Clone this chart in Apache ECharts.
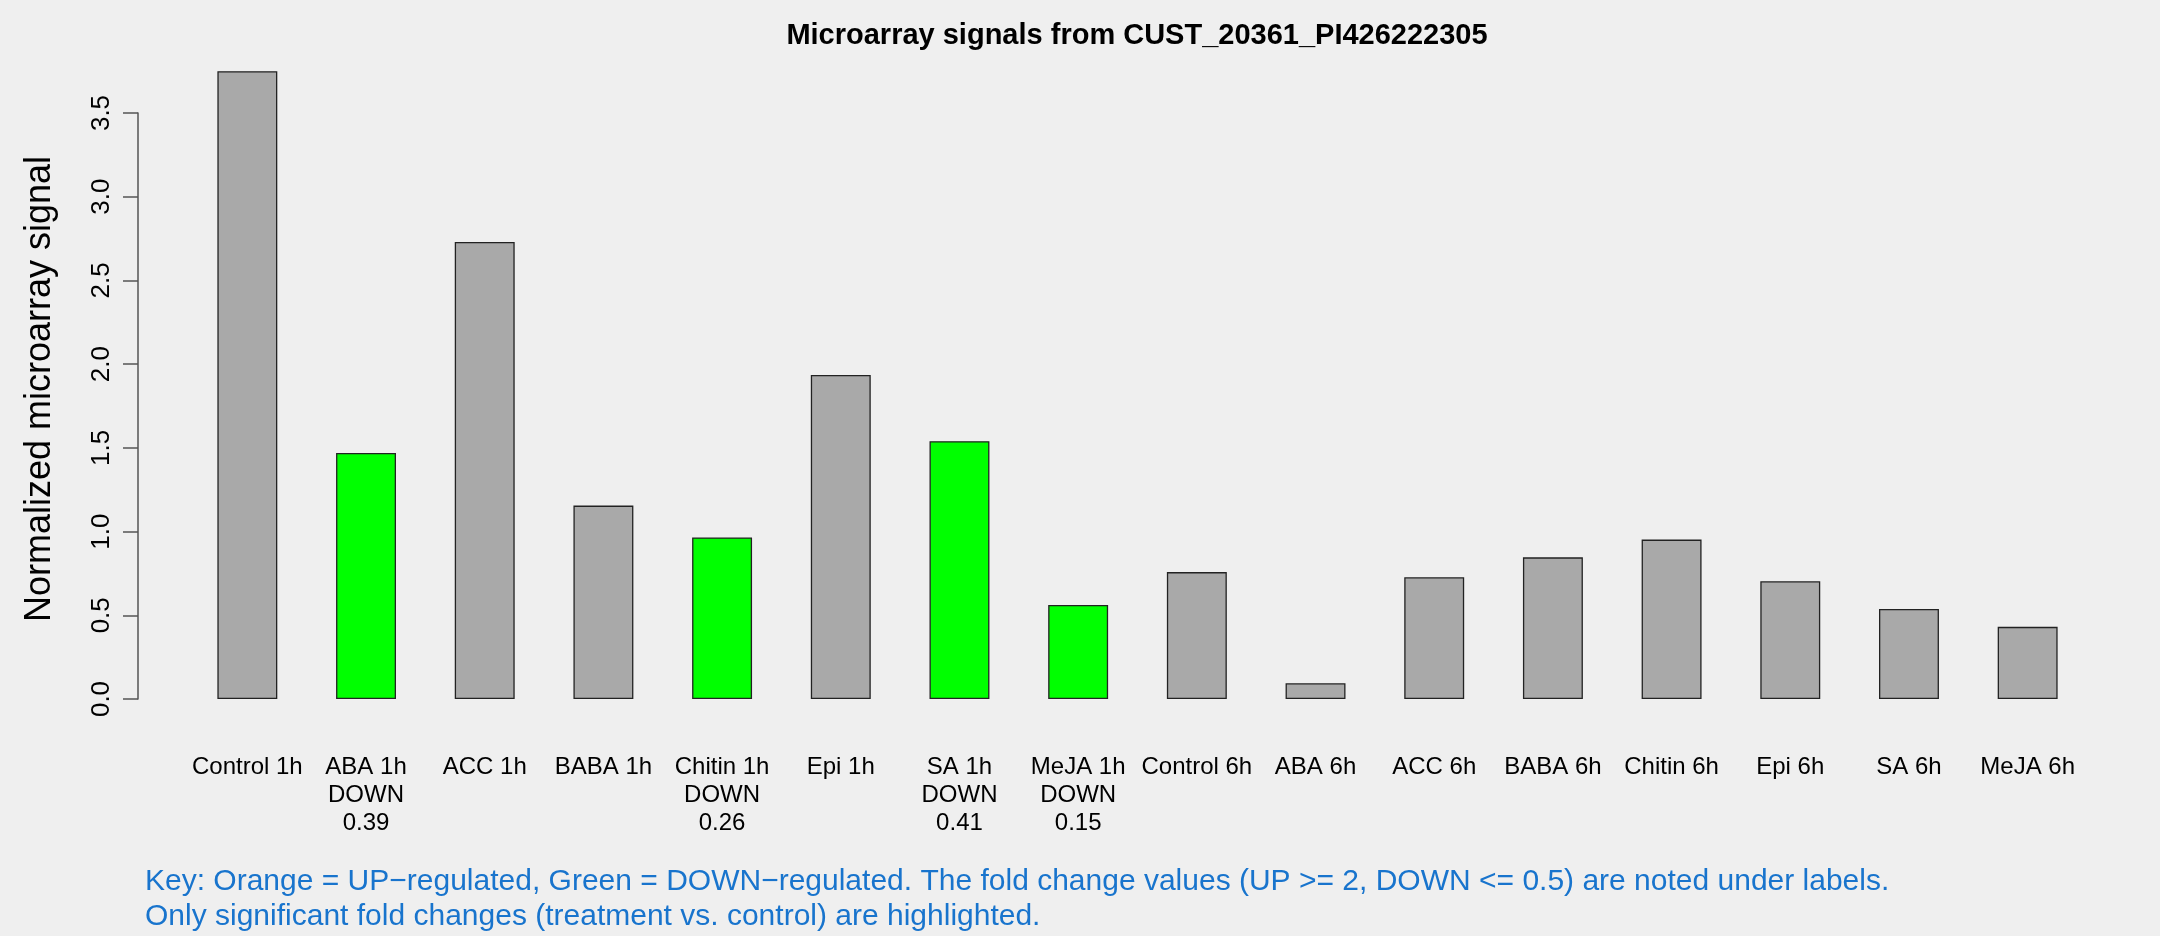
<!DOCTYPE html>
<html>
<head>
<meta charset="utf-8">
<script src="https://cdn.jsdelivr.net/npm/echarts@6/dist/echarts.min.js"></script>
<style>
  html, body { margin: 0; padding: 0; background: #efefef; }
  #chart { width: 2160px; height: 936px; }
</style>
</head>
<body>
<div id="chart"></div>
<script>
const categories = ['Control 1h', 'ABA 1h', 'ACC 1h', 'BABA 1h', 'Chitin 1h', 'Epi 1h', 'SA 1h', 'MeJA 1h',
                    'Control 6h', 'ABA 6h', 'ACC 6h', 'BABA 6h', 'Chitin 6h', 'Epi 6h', 'SA 6h', 'MeJA 6h'];
const values = [3.75, 1.47, 2.73, 1.155, 0.965, 1.935, 1.54, 0.562,
                0.758, 0.094, 0.727, 0.846, 0.952, 0.703, 0.538, 0.431];
const regulation = ['', 'DOWN', '', '', 'DOWN', '', 'DOWN', 'DOWN',
                    '', '', '', '', '', '', '', ''];
const foldChanges = [null, '0.39', null, null, '0.26', null, '0.41', '0.15',
                     null, null, null, null, null, null, null, null];
const yTicks = { min: 0, max: 3.5, interval: 0.5 };
const titleText = 'Microarray signals from CUST_20361_PI426222305';
const yAxisTitle = 'Normalized microarray signal';
const keyLines = [
  'Key: Orange = UP\u2212regulated, Green = DOWN\u2212regulated. The fold change values (UP >= 2, DOWN <= 0.5) are noted under labels.',
  'Only significant fold changes (treatment vs. control) are highlighted.'
];

const colorFor = r => r === 'DOWN' ? '#00ff00' : (r === 'UP' ? '#ffa500' : '#a9a9a9');
const font = '"Liberation Sans", Arial, Helvetica, sans-serif';

const labelTexts = categories.map((c, i) => {
  let s = c;
  if (regulation[i]) s += '\n' + regulation[i];
  if (foldChanges[i] !== null) s += '\n' + foldChanges[i];
  return s;
});

const chart = echarts.init(document.getElementById('chart'));
chart.setOption({
  backgroundColor: '#efefef',
  animation: false,
  grid: { left: 188, right: 73, top: 113, bottom: 237, containLabel: false },
  xAxis: {
    type: 'category',
    data: labelTexts,
    axisLine: { show: false },
    axisTick: { show: false },
    axisLabel: {
      interval: 0,
      color: '#000',
      fontFamily: font,
      fontSize: 24,
      lineHeight: 28,
      margin: 54,
      verticalAlign: 'top'
    }
  },
  yAxis: {
    type: 'value',
    min: yTicks.min,
    max: yTicks.max,
    interval: yTicks.interval,
    offset: 50,
    splitLine: { show: false },
    axisLine: { show: true, lineStyle: { color: '#555', width: 1.5 } },
    axisTick: { show: true, length: 15, lineStyle: { color: '#555', width: 1.5 } },
    axisLabel: {
      rotate: 90,
      margin: 23,
      color: '#000',
      fontFamily: font,
      fontSize: 26,
      formatter: v => v.toFixed(1)
    }
  },
  series: [{
    type: 'bar',
    clip: false,
    barCategoryGap: '49.5%',
    data: values.map((v, i) => ({
      value: v,
      itemStyle: { color: colorFor(regulation[i]), borderColor: '#222', borderWidth: 1.3 }
    }))
  }],
  graphic: [
    {
      type: 'text', x: 1137, y: 36,
      style: { text: titleText, font: 'bold 29px ' + font, fill: '#000', align: 'center', verticalAlign: 'middle' }
    },
    {
      type: 'text', x: 40, y: 389, rotation: Math.PI / 2,
      style: { text: yAxisTitle, font: '36px ' + font, fill: '#000', align: 'center', verticalAlign: 'middle' }
    },
    {
      type: 'text', x: 145, y: 882,
      style: { text: keyLines[0], font: '30px ' + font, fill: '#1874cd', align: 'left', verticalAlign: 'middle' }
    },
    {
      type: 'text', x: 145, y: 917,
      style: { text: keyLines[1], font: '30px ' + font, fill: '#1874cd', align: 'left', verticalAlign: 'middle' }
    }
  ]
});
</script>
</body>
</html>
